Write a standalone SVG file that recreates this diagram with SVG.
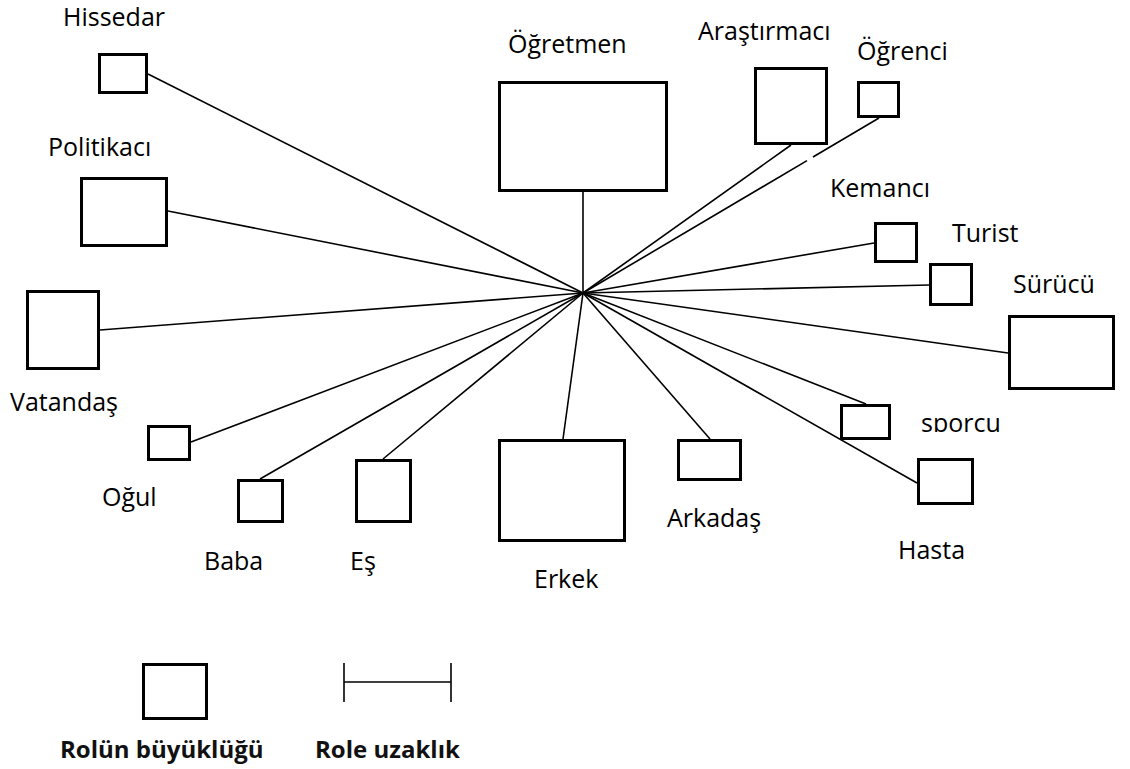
<svg xmlns="http://www.w3.org/2000/svg" width="1130" height="769" viewBox="0 0 1130 769">
<style>
.box{fill:none;stroke:#000;stroke-width:3}
.ln{stroke:#000;stroke-width:1.6;fill:none}
.lb{font-family:"Open Sans","Liberation Sans",sans-serif;font-size:25px;fill:#000}
.lg{font-family:"Open Sans","Liberation Sans",sans-serif;font-size:24px;font-weight:bold;fill:#111}
</style>
<defs>
<clipPath id="clipSporcu"><rect x="900" y="400" width="120" height="32"/></clipPath>
</defs>
<rect width="1130" height="769" fill="#fff"/>
<g id="connectors">
<line class="ln" x1="583" y1="293" x2="148" y2="74"/>
<line class="ln" x1="583" y1="293" x2="168" y2="211"/>
<line class="ln" x1="583" y1="293" x2="100" y2="330"/>
<line class="ln" x1="583" y1="293" x2="191" y2="442"/>
<line class="ln" x1="583" y1="293" x2="260" y2="479"/>
<line class="ln" x1="583" y1="293" x2="383" y2="459"/>
<line class="ln" x1="583" y1="293" x2="563" y2="439"/>
<line class="ln" x1="583" y1="293" x2="710" y2="439"/>
<line class="ln" x1="583" y1="293" x2="917" y2="483"/>
<line class="ln" x1="583" y1="293" x2="866" y2="404"/>
<line class="ln" x1="583" y1="293" x2="1008" y2="353"/>
<line class="ln" x1="583" y1="293" x2="929" y2="285"/>
<line class="ln" x1="583" y1="293" x2="874" y2="243"/>
<line class="ln" x1="583" y1="293" x2="807" y2="160.6"/>
<line class="ln" x1="813" y1="157" x2="879" y2="118"/>
<line class="ln" x1="583" y1="293" x2="791" y2="145"/>
<line class="ln" x1="583" y1="293" x2="583" y2="192"/>
</g>
<g id="hissedar"><rect class="box" x="99.5" y="54.5" width="47" height="38"/><text class="lb" x="63" y="26">Hissedar</text></g>
<g id="politikaci"><rect class="box" x="81.5" y="178.5" width="85" height="67"/><text class="lb" x="48" y="156">Politikacı</text></g>
<g id="vatandas"><rect class="box" x="27.5" y="291.5" width="71" height="77"/><text class="lb" x="10" y="411">Vatandaş</text></g>
<g id="ogretmen"><rect class="box" x="499.5" y="82.5" width="167" height="108"/><text class="lb" x="508" y="53">Öğretmen</text></g>
<g id="arastirmaci"><rect class="box" x="755.5" y="68.5" width="71" height="75"/><text class="lb" x="698" y="40">Araştırmacı</text></g>
<g id="ogrenci"><rect class="box" x="858.5" y="82.5" width="40" height="34"/><text class="lb" x="857" y="60">Öğrenci</text></g>
<g id="kemanci"><rect class="box" x="875.5" y="223.5" width="41" height="38"/><text class="lb" x="830" y="197">Kemancı</text></g>
<g id="turist"><rect class="box" x="930.5" y="264.5" width="41" height="40"/><text class="lb" x="952" y="242">Turist</text></g>
<g id="surucu"><rect class="box" x="1009.5" y="316.5" width="104" height="72"/><text class="lb" x="1013" y="293">Sürücü</text></g>
<g id="sporcu"><rect class="box" x="841.5" y="405.5" width="48" height="33"/><text class="lb" x="921" y="432" clip-path="url(#clipSporcu)">sporcu</text></g>
<g id="hasta"><rect class="box" x="918.5" y="459.5" width="54" height="44"/><text class="lb" x="898" y="559">Hasta</text></g>
<g id="arkadas"><rect class="box" x="678.5" y="440.5" width="62" height="39"/><text class="lb" x="667" y="527">Arkadaş</text></g>
<g id="erkek"><rect class="box" x="499.5" y="440.5" width="125" height="100"/><text class="lb" x="534" y="588">Erkek</text></g>
<g id="es"><rect class="box" x="356.5" y="460.5" width="54" height="61"/><text class="lb" x="350" y="570">Eş</text></g>
<g id="baba"><rect class="box" x="238.5" y="480.5" width="44" height="41"/><text class="lb" x="204" y="570">Baba</text></g>
<g id="ogul"><rect class="box" x="148.5" y="426.5" width="41" height="33"/><text class="lb" x="102" y="506">Oğul</text></g>
<g id="legend">
<rect class="box" x="143.5" y="664.5" width="63" height="54"/>
<line class="ln" x1="344" y1="682" x2="451" y2="682"/>
<line class="ln" x1="344" y1="663" x2="344" y2="702"/>
<line class="ln" x1="451" y1="663" x2="451" y2="702"/>
<text class="lg" x="60" y="758">Rolün büyüklüğü</text>
<text class="lg" x="315" y="758">Role uzaklık</text>
</g>
</svg>
